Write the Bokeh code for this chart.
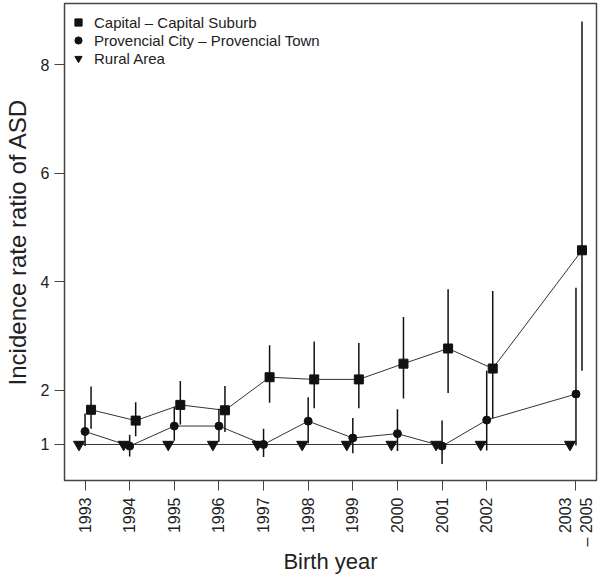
import math
from bokeh.plotting import figure
from bokeh.models import FixedTicker, Range1d, Legend, LegendItem, ColumnDataSource
from bokeh.embed import file_html
from bokeh.resources import INLINE

# ---- data ----
year_labels = ["1993", "1994", "1995", "1996", "1997", "1998", "1999",
               "2000", "2001", "2002", "2003\n– 2005"]
xpos = [0, 1, 2, 3, 4, 5, 6, 7, 8, 9, 11]

capital_irr = [1.64, 1.44, 1.73, 1.63, 2.24, 2.20, 2.20, 2.49, 2.77, 2.40, 4.58]
capital_lo = [1.29, 1.15, 1.37, 1.23, 1.77, 1.67, 1.67, 1.85, 1.95, 1.49, 2.36]
capital_hi = [2.07, 1.78, 2.17, 2.08, 2.83, 2.90, 2.87, 3.35, 3.86, 3.83, 8.80]

prov_irr = [1.24, 0.97, 1.34, 1.34, 1.00, 1.43, 1.12, 1.20, 0.97, 1.45, 1.93]
prov_lo = [0.97, 0.78, 1.07, 1.05, 0.77, 1.02, 0.84, 0.88, 0.64, 0.89, 0.98]
prov_hi = [1.57, 1.18, 1.69, 1.66, 1.29, 1.87, 1.49, 1.65, 1.44, 2.36, 3.89]

rural_irr = [1.0] * 11

series_names = ["Capital – Capital Suburb",
                "Provencial City – Provencial Town",
                "Rural Area"]

# horizontal offsets per series (category units)
off_rural, off_prov, off_cap = -0.135, 0.0, 0.135

FONT = "Liberation Sans"
TXT = "#222222"

W, H = 600, 577
B_LEFT, B_RIGHT, B_TOP, B_BOTTOM = 62, 4, 3, 97

p = figure(width=W, height=H, output_backend="svg", toolbar_location=None,
           x_range=Range1d(-0.46, 11.46), y_range=Range1d(0.336, 9.13),
           min_border_left=B_LEFT, min_border_right=B_RIGHT,
           min_border_top=B_TOP, min_border_bottom=B_BOTTOM)
p.xgrid.visible = False
p.ygrid.visible = False
p.outline_line_color = "#444444"
p.outline_line_width = 1.5
p.background_fill_color = "white"

cap_src = ColumnDataSource(dict(x=[v + off_cap for v in xpos], y=capital_irr,
                                lo=capital_lo, hi=capital_hi))
prov_src = ColumnDataSource(dict(x=[v + off_prov for v in xpos], y=prov_irr,
                                 lo=prov_lo, hi=prov_hi))
rur_src = ColumnDataSource(dict(x=[v + off_rural for v in xpos], y=rural_irr))

# connecting lines
p.line("x", "y", source=rur_src, line_color="#333333", line_width=1)
p.line("x", "y", source=prov_src, line_color="#333333", line_width=1)
p.line("x", "y", source=cap_src, line_color="#333333", line_width=1)

# error bars
p.segment(x0="x", y0="lo", x1="x", y1="hi", source=prov_src,
          line_color="#111111", line_width=1.5)
p.segment(x0="x", y0="lo", x1="x", y1="hi", source=cap_src,
          line_color="#111111", line_width=1.5)

# markers
r_rur = p.scatter("x", "y", source=rur_src, marker="inverted_triangle", size=11,
                  fill_color="#111111", line_color="#111111")
r_prov = p.scatter("x", "y", source=prov_src, marker="circle", size=8,
                   fill_color="#111111", line_color="#111111")
r_cap = p.scatter("x", "y", source=cap_src, marker="square", size=9,
                  fill_color="#111111", line_color="#111111")

# axes
for ax in (p.xaxis[0], p.yaxis[0]):
    ax.axis_line_color = None
    ax.major_tick_in = 0
    ax.major_tick_out = 10
    ax.major_tick_line_color = "#444444"
    ax.major_tick_line_width = 1
    ax.minor_tick_line_color = None
    ax.major_label_text_font = FONT
    ax.major_label_text_font_size = "16px"
    ax.major_label_text_color = TXT
    ax.axis_label_text_font = FONT
    ax.axis_label_text_font_style = "normal"
    ax.axis_label_text_color = TXT

p.xaxis.ticker = FixedTicker(ticks=xpos)
p.xaxis.major_label_overrides = {x: lab for x, lab in zip(xpos, year_labels)}
p.xaxis.major_label_orientation = math.pi / 2
p.xaxis.major_label_standoff = 7
p.xaxis.axis_label = "Birth year"
p.xaxis.axis_label_text_font_size = "22px"
p.xaxis.axis_label_standoff = 0

p.yaxis.ticker = FixedTicker(ticks=[1, 2, 4, 6, 8])
p.yaxis.major_label_orientation = "horizontal"
p.yaxis.major_label_standoff = 5
p.yaxis.axis_label = "Incidence rate ratio of ASD"
p.yaxis.axis_label_text_font_size = "24px"
p.yaxis.axis_label_standoff = 7

frame_h = H - B_TOP - B_BOTTOM
legend = Legend(items=[LegendItem(label=series_names[0], renderers=[r_cap]),
                       LegendItem(label=series_names[1], renderers=[r_prov]),
                       LegendItem(label=series_names[2], renderers=[r_rur])],
                location=(5, frame_h - 10 - 54),
                border_line_color=None, background_fill_alpha=0,
                padding=0, spacing=0, margin=0,
                glyph_width=18, glyph_height=18, label_height=18,
                label_standoff=7, label_text_font=FONT,
                label_text_font_size="15px", label_text_color=TXT)
p.add_layout(legend)

open("out.html", "w").write(file_html(p, INLINE))
